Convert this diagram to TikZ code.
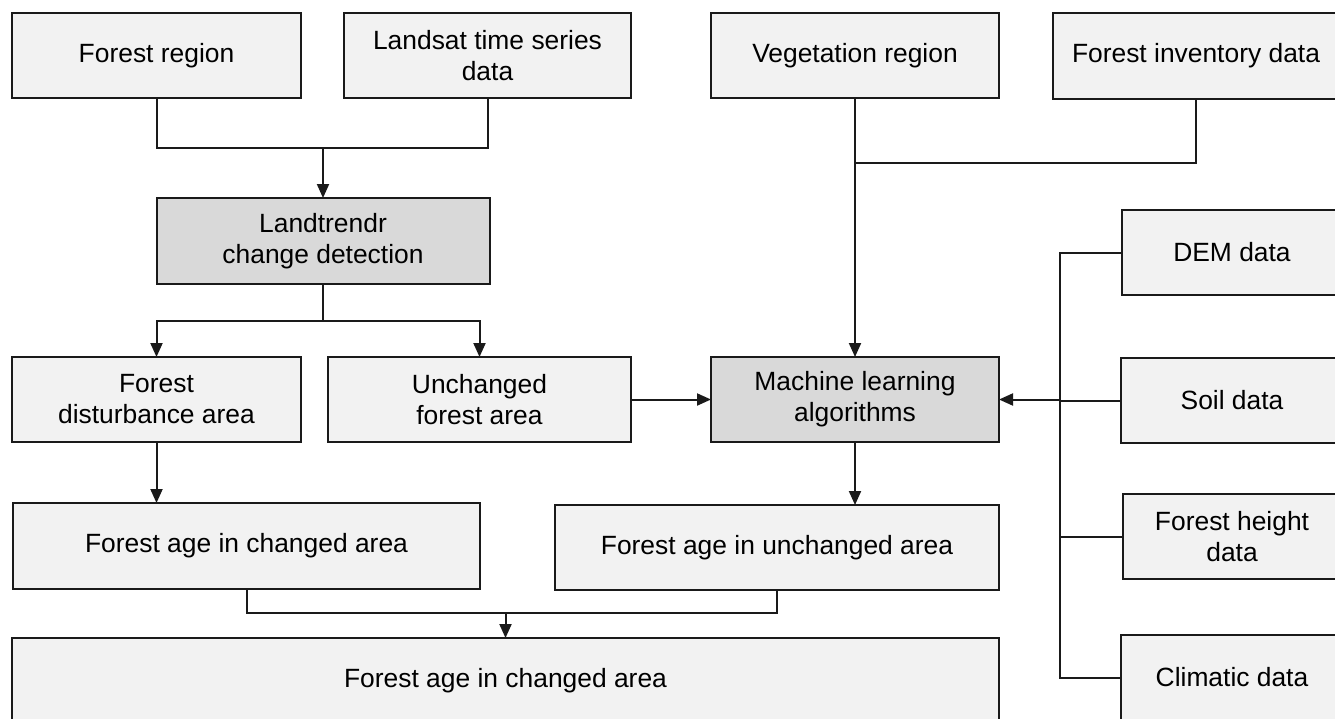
\documentclass[tikz,border=0pt]{standalone}
\usepackage{fontspec}
\setmainfont{Liberation Sans}
\usetikzlibrary{arrows.meta,calc}
\definecolor{boxlight}{HTML}{F2F2F2}
\definecolor{boxdark}{HTML}{D9D9D9}
\definecolor{linecol}{HTML}{1A1A1A}
\tikzset{
  box/.style={draw=linecol, line width=2pt, fill=boxlight, inner sep=0pt, outer sep=0pt,
    align=center, font=\fontsize{26.4}{31}\selectfont, text=black},
  darkbox/.style={box, fill=boxdark},
  conn/.style={draw=linecol, line width=2pt},
  arr/.style={conn, -{Triangle[length=14pt,width=12pt]}}
}
\begin{document}
\begin{tikzpicture}[x=1pt,y=-1pt]
\useasboundingbox (0,0) rectangle (1335,718);
\fill[white] (0,0) rectangle (1335,718);
\clip (0,0) rectangle (1335,718);

% top row
\node[box, minimum width=289, minimum height=85] (fr) at (156.5,55.5) {Forest region};
\node[box, minimum width=287, minimum height=85] (ls) at (487.5,55.5) {Landsat time series\\data};
\node[box, minimum width=288, minimum height=85] (vr) at (855,55.5) {Vegetation region};
\node[box, minimum width=286, minimum height=86] (fi) at (1196,56) {Forest inventory data};

% second row
\node[darkbox, minimum width=333, minimum height=86] (lt) at (323,241) {Landtrendr\\change detection};
\node[box, minimum width=220, minimum height=85] (dem) at (1232,252.5) {DEM data};

% third row
\node[box, minimum width=289, minimum height=85] (fd) at (156.5,399.5) {Forest\\disturbance area};
\node[box, minimum width=303, minimum height=85] (uf) at (479.5,399.5) {Unchanged\\forest area};
\node[darkbox, minimum width=288, minimum height=85] (ml) at (855,399.5) {Machine learning\\algorithms};
\node[box, minimum width=222, minimum height=85] (soil) at (1232,400.5) {Soil data};

% fourth row
\node[box, minimum width=467, minimum height=86] (ca) at (246.5,546) {Forest age in changed area};
\node[box, minimum width=444, minimum height=85] (ua) at (777,547.5) {Forest age in unchanged area};
\node[box, minimum width=218, minimum height=85] (fh) at (1232,536.5) {Forest height\\data};

% bottom row
\node[box, minimum width=987, minimum height=85] (fa) at (505.5,680.5) {Forest age in changed area};
\node[box, minimum width=222, minimum height=85] (cl) at (1232,677.5) {Climatic data};

% connectors: top left merge
\coordinate (j1) at (323,148);
\draw[conn] (fr.south) |- (j1) -| (ls.south);
\draw[arr] (j1) -- (lt.north);

% Landtrendr split
\coordinate (j2) at (323,321);
\draw[conn] (lt.south) -- (j2);
\draw[arr] (j2) -| (fd.north);
\draw[arr] (j2) -| (uf.north);

% vegetation + inventory into ML
\coordinate (j4) at (855,163);
\draw[arr] (vr.south) -- (ml.north);
\draw[conn] (fi.south) |- (j4);

% unchanged forest into ML
\draw[arr] (uf.east) -- (ml.west);

% right-side bus
\coordinate (bt) at (1060,252.5);
\coordinate (bb) at (1060,677.5);
\coordinate (bs) at (1060,399.5);
\draw[conn] (dem.west) -- (bt) -- (bb) -- (cl.west);
\draw[conn] (soil.west) -- (soil.west -| bt);
\draw[conn] (fh.west) -- (fh.west -| bt);
\draw[arr] (bs) -- (ml.east);

% down to fourth row
\draw[arr] (fd.south) -- (fd.south |- ca.north);
\draw[arr] (ml.south) -- (ml.south |- ua.north);

% bottom merge
\coordinate (j3) at (505.5,613);
\draw[conn] (ca.south) |- (j3) -| (ua.south);
\draw[arr] (j3) -- (fa.north);
\end{tikzpicture}
\end{document}
